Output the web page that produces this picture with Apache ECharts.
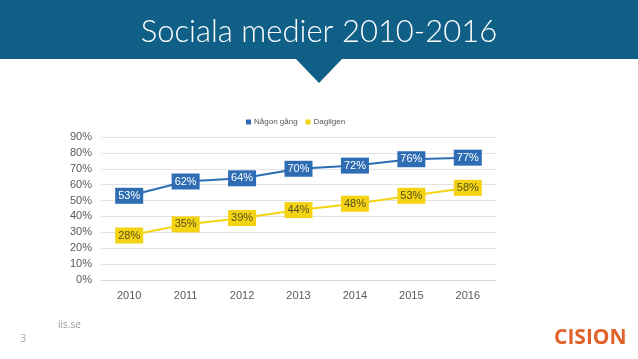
<!DOCTYPE html>
<html><head><meta charset="utf-8">
<script src="https://cdn.jsdelivr.net/npm/echarts@6/dist/echarts.min.js"></script>
<style>html,body{margin:0;padding:0;background:#fff}#c{width:638px;height:359px}</style>
</head><body><div id="c"></div>
<script>
const years = ['2010','2011','2012','2013','2014','2015','2016'];
const nagonGang = [53, 62, 64, 70, 72, 76, 77];
const dagligen = [28, 35, 39, 44, 48, 53, 58];
const yTicks = [0,10,20,30,40,50,60,70,80,90];

const chart = echarts.init(document.getElementById('c'));
const blue = '#2E6DB4', yellow = '#F4D312';
chart.setOption({
  animation: false,
  backgroundColor: '#fff',
  title: {
    text: 'Sociala medier 2010-2016',
    left: 'center', top: 11,
    textStyle: {color: '#fff', fontSize: 31, fontWeight: 300, fontFamily: 'Lato'}
  },
  graphic: [
    {type: 'rect', z: -1, shape: {x: 0, y: 0, width: 638, height: 59}, style: {fill: '#0F5F87'}},
    {type: 'polygon', z: -1, shape: {points: [[295, 58], [343, 58], [319, 83]]}, style: {fill: '#0F5F87'}},
    {type: 'text', left: 58, top: 320, style: {text: 'iis.se', fill: '#999', fontSize: 10, fontFamily: 'Open Sans'}},
    {type: 'text', left: 20, top: 333, style: {text: '3', fill: '#aaa', fontSize: 11, fontFamily: 'Open Sans'}},
    {type: 'text', left: 554, top: 328, style: {text: 'CISION', fill: '#E0622A', fontSize: 21, fontWeight: 'bold', fontFamily: 'Open Sans'}},
    {type: 'text', left: 625, top: 331, style: {text: '.', fill: '#E0622A', fontSize: 6, fontFamily: 'Open Sans'}}
  ],
  legend: {
    top: 113, left: 241,
    itemWidth: 5, itemHeight: 5, itemGap: 8,
    icon: 'rect',
    textStyle: {fontSize: 8, color: '#555', fontFamily: 'Liberation Sans', padding: [0,0,0,-2]},
    data: ['Någon gång', 'Dagligen']
  },
  grid: {left: 101, right: 142, top: 137, bottom: 79},
  xAxis: {
    type: 'category', data: years, boundaryGap: true,
    axisLine: {show: true, lineStyle: {color: '#d9d9d9'}},
    axisTick: {show: false},
    axisLabel: {color: '#595959', fontSize: 11, margin: 10, fontFamily: 'Liberation Sans'}
  },
  yAxis: {
    type: 'value', min: 0, max: 90, interval: 10,
    axisLabel: {color: '#595959', fontSize: 11, margin: 9, fontFamily: 'Liberation Sans',
      formatter: v => yTicks.includes(v) ? v + '%' : ''},
    splitLine: {lineStyle: {color: '#e3e3e3'}},
    axisLine: {show: false}, axisTick: {show: false}
  },
  series: [
    {
      name: 'Någon gång', type: 'line', data: nagonGang,
      color: blue, symbol: 'rect', symbolSize: 1, showSymbol: true,
      lineStyle: {width: 2, color: blue},
      label: {show: true, position: 'inside', formatter: '{c}%', color: '#fff',
        backgroundColor: blue, padding: [3, 3, 2, 3], fontSize: 11, fontFamily: 'Liberation Sans'}
    },
    {
      name: 'Dagligen', type: 'line', data: dagligen,
      color: yellow, symbol: 'rect', symbolSize: 1, showSymbol: true,
      lineStyle: {width: 2, color: yellow},
      label: {show: true, position: 'inside', formatter: '{c}%', color: '#5a5020',
        backgroundColor: yellow, padding: [3, 3, 2, 3], fontSize: 11, fontFamily: 'Liberation Sans'}
    }
  ]
});
</script></body></html>
